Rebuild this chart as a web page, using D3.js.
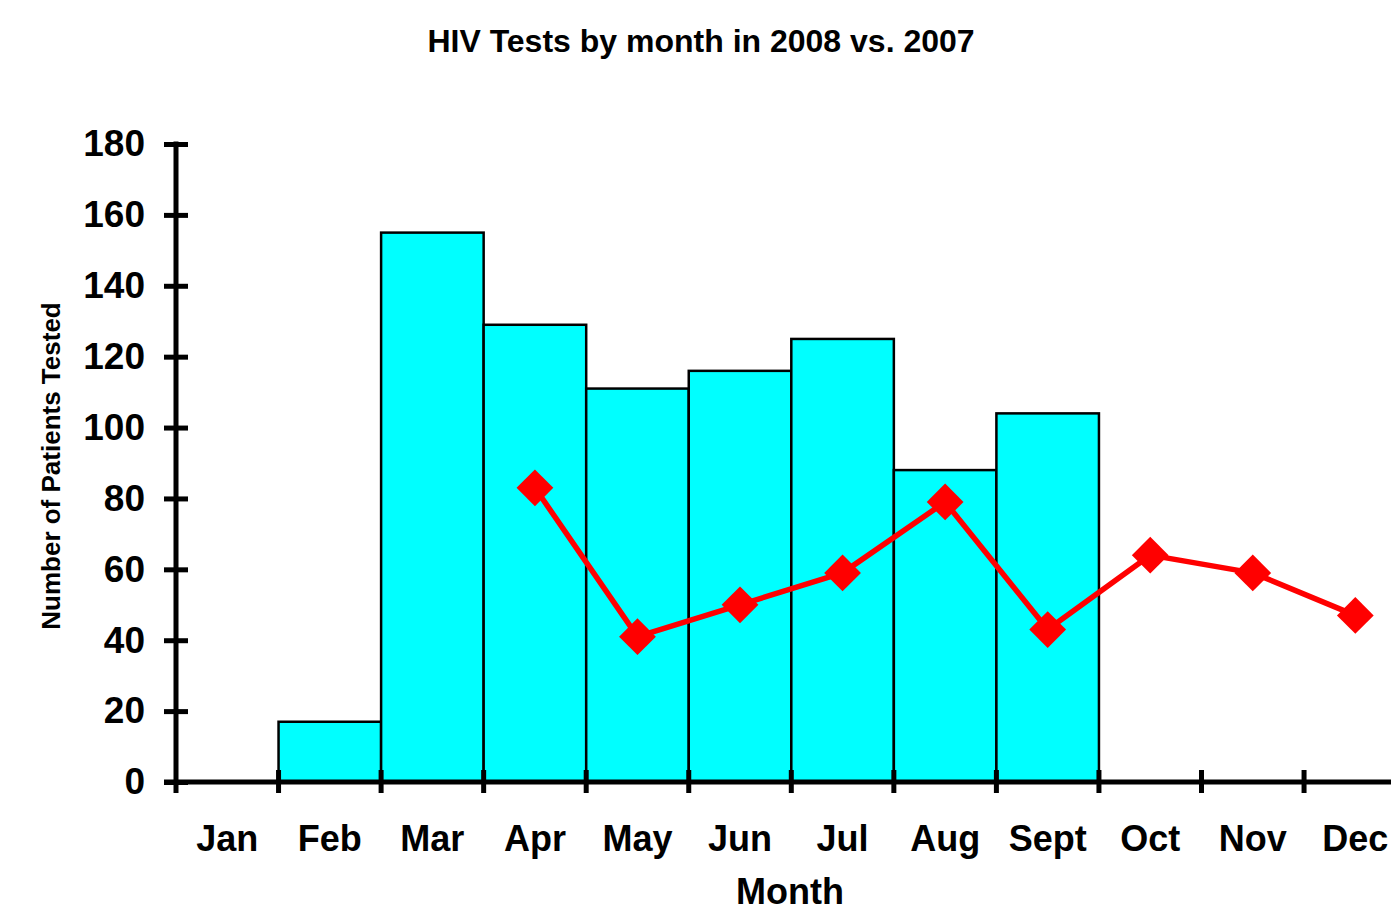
<!DOCTYPE html>
<html>
<head>
<meta charset="utf-8">
<script src="https://cdn.jsdelivr.net/npm/d3@7"></script>
<style>
  body { margin: 0; background: #fff; }
  svg { display: block; font-family: "Liberation Sans", Arial, sans-serif; font-weight: bold; }
</style>
</head>
<body>
<svg></svg>
<script>
const months = ['Jan', 'Feb', 'Mar', 'Apr', 'May', 'Jun', 'Jul', 'Aug', 'Sept', 'Oct', 'Nov', 'Dec'];
// bars: 2008 (null = no bar)
const tests2008 = [null, 17, 155, 129, 111, 116, 125, 88, 104, null, null, null];
// line: 2007
const tests2007 = [null, null, null, 83, 41, 50, 59, 79, 43, 64, 59, 47];
const yTicks = [0, 20, 40, 60, 80, 100, 120, 140, 160, 180];

const width = 1391;
const height = 914;
const left = 176;
const bandW = 102.55;
const yTop = 144;
const yBottom = 782;

let svg = d3.select('svg').attr('width', width).attr('height', height);

let xScale = d3.scaleBand()
    .domain(months)
    .range([left, left + bandW * months.length])
    .padding(0);

let yScale = d3.scaleLinear()
    .domain([0, 180])
    .range([yBottom, yTop]);

// bars
let barData = months.map((m, i) => ({ month: m, value: tests2008[i] })).filter(d => d.value !== null);
svg.append('g')
    .selectAll('rect')
    .data(barData)
    .enter()
    .append('rect')
    .attr('x', d => xScale(d.month))
    .attr('y', d => yScale(d.value))
    .attr('width', xScale.bandwidth())
    .attr('height', d => yScale(0) - yScale(d.value))
    .attr('fill', '#00ffff')
    .attr('stroke', '#000')
    .attr('stroke-width', 2.5);

// y axis
let yAxis = d3.axisLeft(yScale)
    .tickValues(yTicks)
    .tickSize(12)
    .tickPadding(19);

let gy = svg.append('g')
    .attr('transform', 'translate(' + left + ',0)')
    .call(yAxis);
gy.select('.domain').remove();
gy.selectAll('.tick line')
    .attr('x1', -12).attr('x2', 12)
    .attr('stroke', '#000').attr('stroke-width', 5);
gy.selectAll('.tick text')
    .attr('font-size', 37)
    .attr('font-family', '"Liberation Sans", Arial, sans-serif')
    .attr('font-weight', 'bold')
    .attr('fill', '#000');
gy.append('line')
    .attr('x1', 0).attr('x2', 0)
    .attr('y1', yScale(180) - 2.5).attr('y2', yScale(0))
    .attr('stroke', '#000').attr('stroke-width', 5);

// x axis
let xAxis = d3.axisBottom(xScale)
    .tickSize(0)
    .tickPadding(43);

let gx = svg.append('g')
    .attr('transform', 'translate(0,' + yBottom + ')')
    .call(xAxis);
gx.select('.domain').remove();
gx.selectAll('.tick text')
    .attr('font-size', 36)
    .attr('font-family', '"Liberation Sans", Arial, sans-serif')
    .attr('font-weight', 'bold')
    .attr('fill', '#000');
gx.append('line')
    .attr('x1', left - 12).attr('x2', left + bandW * months.length)
    .attr('y1', 0).attr('y2', 0)
    .attr('stroke', '#000').attr('stroke-width', 5);
gx.selectAll('line.xtick')
    .data(months)
    .enter()
    .append('line')
    .attr('class', 'xtick')
    .attr('x1', d => xScale(d)).attr('x2', d => xScale(d))
    .attr('y1', (d, i) => i === 0 ? 0 : -12).attr('y2', 11)
    .attr('stroke', '#000').attr('stroke-width', 5);

// line series
let lineData = months.map((m, i) => ({ month: m, value: tests2007[i] })).filter(d => d.value !== null);
let cx = d => xScale(d.month) + xScale.bandwidth() / 2;
let line = d3.line()
    .x(cx)
    .y(d => yScale(d.value));

svg.append('path')
    .datum(lineData)
    .attr('d', line)
    .attr('fill', 'none')
    .attr('stroke', '#ff0000')
    .attr('stroke-width', 5.5)
    .attr('stroke-linejoin', 'round');

svg.append('g')
    .selectAll('path')
    .data(lineData)
    .enter()
    .append('path')
    .attr('d', d3.symbol().type(d3.symbolSquare).size(26 * 26))
    .attr('transform', d => 'translate(' + cx(d) + ',' + yScale(d.value) + ') rotate(45)')
    .attr('fill', '#ff0000');

// titles
svg.append('text')
    .attr('x', 701)
    .attr('y', 52)
    .attr('text-anchor', 'middle')
    .attr('font-size', 32)
    .text('HIV Tests by month in 2008 vs. 2007');

svg.append('text')
    .attr('transform', 'translate(60,466) rotate(-90)')
    .attr('text-anchor', 'middle')
    .attr('font-size', 26)
    .text('Number of Patients Tested');

svg.append('text')
    .attr('x', 790)
    .attr('y', 904)
    .attr('text-anchor', 'middle')
    .attr('font-size', 36)
    .text('Month');
</script>
</body>
</html>
